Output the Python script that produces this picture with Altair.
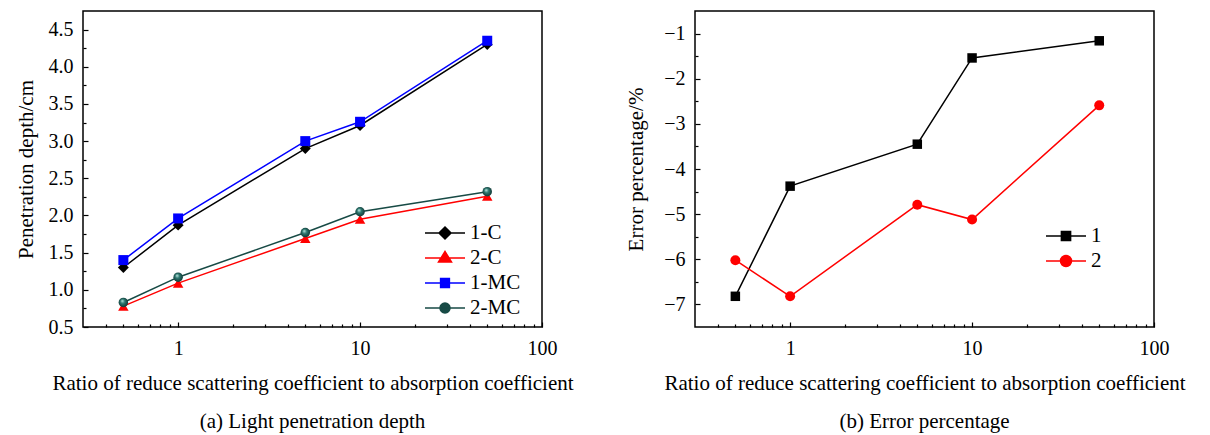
import altair as alt
import pandas as pd

FONT = "Liberation Serif"

# ---- data ----
ratio = [0.5, 1, 5, 10, 50]

# panel (a) penetration depth (cm)
depth_1c = [1.30, 1.87, 2.90, 3.21, 4.30]
depth_2c = [0.78, 1.09, 1.69, 1.95, 2.26]
depth_1mc = [1.40, 1.96, 3.00, 3.26, 4.35]
depth_2mc = [0.83, 1.17, 1.77, 2.05, 2.32]

# panel (b) error percentage (%)
err_1 = [-6.82, -4.38, -3.45, -1.54, -1.16]
err_2 = [-6.02, -6.82, -4.79, -5.12, -2.59]

series_a = ["1-C", "2-C", "1-MC", "2-MC"]
series_b = ["1", "2"]

x_major = [1, 10, 100]
x_minor = [0.4, 0.5, 0.6, 0.7, 0.8, 0.9, 2, 3, 4, 5, 6, 7, 8, 9,
           20, 30, 40, 50, 60, 70, 80, 90]
ya_major = [0.5, 1.0, 1.5, 2.0, 2.5, 3.0, 3.5, 4.0, 4.5]
ya_minor = [0.75, 1.25, 1.75, 2.25, 2.75, 3.25, 3.75, 4.25]
yb_major = [-7, -6, -5, -4, -3, -2, -1]
yb_minor = [-6.5, -5.5, -4.5, -3.5, -2.5, -1.5]

XTITLE = "Ratio of reduce scattering coefficient to absorption coefficient"

df_a = pd.DataFrame({
    "ratio": ratio * 4,
    "value": depth_1c + depth_2c + depth_1mc + depth_2mc,
    "series": sum([[s] * len(ratio) for s in series_a], []),
})
df_b = pd.DataFrame({
    "ratio": ratio * 2,
    "value": err_1 + err_2,
    "series": sum([[s] * len(ratio) for s in series_b], []),
})

sphere = {
    "gradient": "radial",
    "x1": 0.38, "y1": 0.32, "r1": 0.02,
    "x2": 0.5, "y2": 0.5, "r2": 0.6,
    "stops": [
        {"offset": 0, "color": "#bfe8e2"},
        {"offset": 0.35, "color": "#2f7a72"},
        {"offset": 1, "color": "#082826"},
    ],
}

style_a = {
    "1-C": dict(color="#000000", shape="diamond", size=120),
    "2-C": dict(color="#ff0000", shape="triangle-up", size=110),
    "1-MC": dict(color="#0000ff", shape="square", size=100),
    "2-MC": dict(color="#174a45", shape="circle", size=90, fill=sphere),
}
legend_paths_a = [
    "M-2,0H2M0,-0.6L0.6,0L0,0.6L-0.6,0Z",
    "M-2,0H2M-0.65,0.4L0.65,0.4L0,-0.65Z",
    "M-2,0H2M-0.44,-0.44H0.44V0.44H-0.44Z",
    "M-2,0H2M-0.5,0A0.5,0.5 0 1,0 0.5,0A0.5,0.5 0 1,0 -0.5,0Z",
]
style_b = {
    "1": dict(color="#000000", shape="square", size=90),
    "2": dict(color="#ff0000", shape="circle", size=100),
}
legend_paths_b = [
    "M-2,0H2M-0.46,-0.46H0.46V0.46H-0.46Z",
    "M-2,0H2M-0.55,0A0.55,0.55 0 1,0 0.55,0A0.55,0.55 0 1,0 -0.55,0Z",
]

AX_TEXT = dict(labelFont=FONT, labelFontSize=20, labelColor="black",
               titleFont=FONT, titleFontSize=21, titleFontWeight="normal",
               titleColor="black", tickColor="black", tickWidth=1.2)


def panel(df, series, style, legend_paths, ydom, ymaj, ymin, yfmt, ytitle,
          ytp, subtitle, lx, ly):
    xscale = alt.Scale(type="log", domain=[0.3, 100])
    yscale = alt.Scale(domain=ydom, nice=False, zero=False)
    xax = alt.Axis(values=x_major, format="d", title=XTITLE, tickSize=5,
                   offset=-5, domain=False, grid=False, labelPadding=11,
                   titlePadding=14, labelFlush=False, labelOverlap=False,
                   **AX_TEXT)
    yax = alt.Axis(values=ymaj, format=yfmt, title=ytitle, tickSize=5,
                   offset=-5, domain=False, grid=False, labelPadding=10,
                   titlePadding=ytp, labelOverlap=False, **AX_TEXT)
    X = alt.X("ratio:Q", scale=xscale, axis=xax)
    Y = alt.Y("value:Q", scale=yscale, axis=yax)

    layers = []
    for s in series:
        st = style[s]
        base = alt.Chart(df).transform_filter(alt.datum.series == s)
        layers.append(base.mark_line(color=st["color"], strokeWidth=1.5)
                      .encode(x=X, y=Y))
        pt_kwargs = dict(shape=st["shape"], filled=True, size=st["size"],
                         color=st["color"], opacity=1)
        if "fill" in st:
            pt_kwargs["fill"] = st["fill"]
        layers.append(base.mark_point(**pt_kwargs).encode(x=X, y=Y))

    colors = [style[s]["color"] for s in series]
    leg = alt.Legend(
        title=None, orient="none", legendX=lx, legendY=ly, padding=0,
        labelFont=FONT, labelFontSize=21, labelColor="black",
        labelOffset=14, rowPadding=4, symbolSize=400,
        symbolStrokeWidth=1.5, symbolOpacity=1,
    )
    legend_layer = alt.Chart(df).mark_point(filled=True, opacity=0, size=400).encode(
        x=X, y=Y,
        shape=alt.Shape("series:N", scale=alt.Scale(domain=series, range=legend_paths), legend=leg),
        color=alt.Color("series:N", scale=alt.Scale(domain=series, range=colors), legend=leg),
        stroke=alt.Stroke("series:N", scale=alt.Scale(domain=series, range=colors), legend=leg),
    )
    inner = alt.layer(*layers, legend_layer)

    xmin_ax = alt.Axis(values=x_minor, tickSize=3, offset=-3, domain=False,
                       labels=False, title=None, grid=False, orient="bottom",
                       tickColor="black", tickWidth=1.2)
    ymin_ax = alt.Axis(values=ymin, tickSize=3, offset=-3, domain=False,
                       labels=False, title=None, grid=False, orient="left",
                       tickColor="black", tickWidth=1.2)
    minor = alt.Chart(df).mark_point(opacity=0).encode(
        x=alt.X("ratio:Q", scale=xscale, axis=xmin_ax),
        y=alt.Y("value:Q", scale=yscale, axis=ymin_ax),
    )
    return alt.layer(inner, minor).resolve_axis(
        x="independent", y="independent"
    ).properties(
        width=459, height=316,
        title=alt.TitleParams(subtitle, orient="bottom", anchor="middle",
                              font=FONT, fontSize=21, fontWeight="normal",
                              color="black", offset=18),
    )


left = panel(df_a, series_a, style_a, legend_paths_a, [0.5, 4.75], ya_major,
             ya_minor, ".1f", "Penetration depth/cm", 12,
             "(a) Light penetration depth", 351, 211)
right = panel(df_b, series_b, style_b, legend_paths_b, [-7.5, -0.5], yb_major,
              yb_minor, "d", "Error percentage/%", 17,
              "(b) Error percentage", 360, 214)

chart = alt.hconcat(left, right, spacing=153, bounds="flush").resolve_scale(
    color="independent", shape="independent", stroke="independent"
).configure_view(
    stroke="black", strokeWidth=1.5
).configure_axis(
    **AX_TEXT
).configure_title(
    font=FONT
).properties(
    padding={"left": 14, "top": 10, "right": 5, "bottom": 5},
    background="white",
)

chart.save("out.html", embed_options={"renderer": "svg", "actions": False})
